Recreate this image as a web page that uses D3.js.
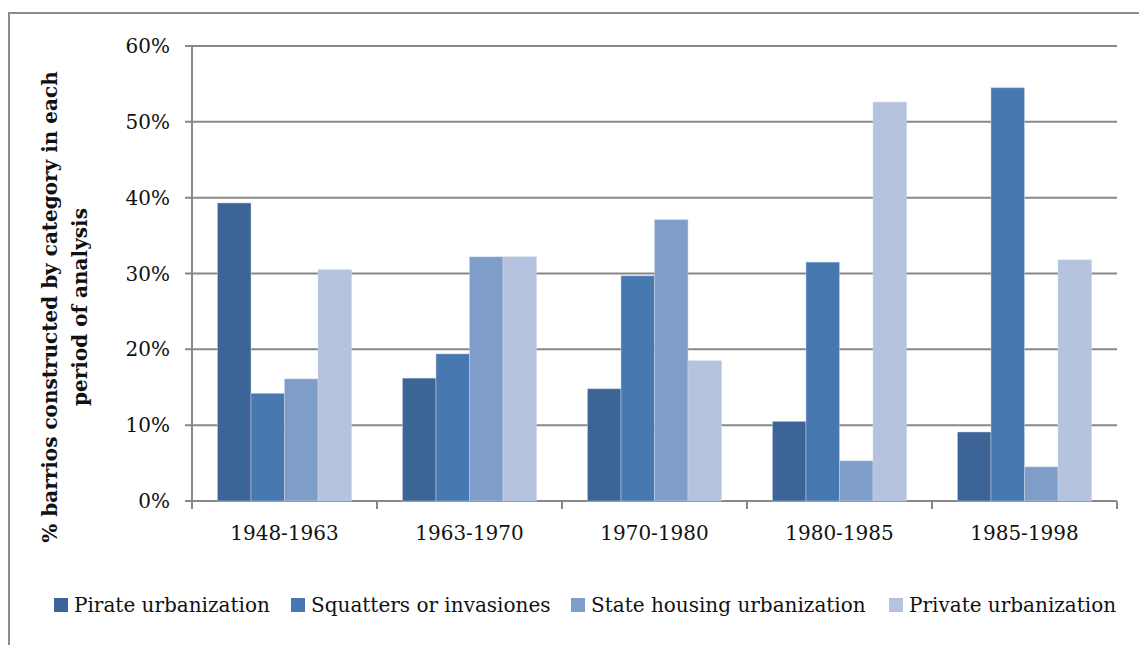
<!DOCTYPE html>
<html>
<head>
<meta charset="utf-8">
<title>barrios by period</title>
<script src="https://d3js.org/d3.v7.min.js"></script>
<style>
  body { margin: 0; background: #fff; }
</style>
</head>
<body>
<div id="chart"></div>
<script>
// periods on the x axis
var periods = ["1948-1963", "1963-1970", "1970-1980", "1980-1985", "1985-1998"];
// series names (legend order)
var seriesNames = ["Pirate urbanization", "Squatters or invasiones", "State housing urbanization", "Private urbanization"];
// values in %
var pirate    = [39.3, 16.2, 14.8, 10.5, 9.1];
var squatters = [14.2, 19.4, 29.7, 31.5, 54.5];
var stateHousing = [16.1, 32.2, 37.1, 5.3, 4.5];
var privateUrb = [30.5, 32.2, 18.5, 52.6, 31.8];
var yTicks = [0, 10, 20, 30, 40, 50, 60];

var colors = ["#3c6496", "#4878b0", "#7f9dc9", "#b5c3df"];
var allSeries = [pirate, squatters, stateHousing, privateUrb];

var width = 1139, height = 645;
var svg = d3.select("#chart").append("svg")
    .attr("width", width).attr("height", height)
    .attr("font-family", "'DejaVu Serif', serif")
    .attr("fill", "#111");

// outer frame
svg.append("rect")
    .attr("x", 9).attr("y", 13)
    .attr("width", 1150).attr("height", 660)
    .attr("fill", "none").attr("stroke", "#8c8c8c").attr("stroke-width", 2);

var pLeft = 192, pRight = 1117, pTop = 46, pBottom = 501;

var x = d3.scaleBand().domain(periods).range([pLeft, pRight]).paddingInner(0).paddingOuter(0);
var x1 = d3.scaleBand().domain(d3.range(4)).range([0, x.bandwidth()]).paddingInner(0).paddingOuter(0.76);
var y = d3.scaleLinear().domain([0, 60]).range([pBottom, pTop]);

// gridlines
svg.append("g").selectAll("line").data(yTicks).enter().append("line")
    .attr("x1", pLeft - 7).attr("x2", pRight)
    .attr("y1", d => y(d)).attr("y2", d => y(d))
    .attr("stroke", "#888").attr("stroke-width", 2);

// y axis line
svg.append("line")
    .attr("x1", pLeft).attr("x2", pLeft).attr("y1", pTop).attr("y2", pBottom + 8)
    .attr("stroke", "#888").attr("stroke-width", 2);

// x ticks at band boundaries
var bounds = periods.map(p => x(p)).concat([pRight]);
svg.append("g").selectAll("line").data(bounds).enter().append("line")
    .attr("x1", d => d).attr("x2", d => d)
    .attr("y1", pBottom).attr("y2", pBottom + 8)
    .attr("stroke", "#888").attr("stroke-width", 2);

// bars
allSeries.forEach(function(vals, i) {
    svg.append("g").selectAll("rect").data(vals).enter().append("rect")
        .attr("x", (d, j) => x(periods[j]) + x1(i))
        .attr("width", x1.bandwidth())
        .attr("y", d => y(d))
        .attr("height", d => y(0) - y(d))
        .attr("fill", colors[i])
        .attr("stroke", "#c9d5e8").attr("stroke-width", 0.8).attr("stroke-opacity", 0.6);
});

// y tick labels
svg.append("g").selectAll("text").data(yTicks).enter().append("text")
    .attr("x", 170).attr("y", d => y(d))
    .attr("dy", "0.35em")
    .attr("text-anchor", "end")
    .attr("font-size", "20px")
    .text(d => d + "%");

// x labels
svg.append("g").selectAll("text").data(periods).enter().append("text")
    .attr("x", d => x(d) + x.bandwidth() / 2)
    .attr("y", 533).attr("dy", "0.35em")
    .attr("text-anchor", "middle")
    .attr("font-size", "20px")
    .text(d => d);

// y axis title
var yt = svg.append("text")
    .attr("transform", "translate(57,307) rotate(-90)")
    .attr("text-anchor", "middle")
    .attr("font-size", "20px").attr("font-weight", "bold");
yt.append("tspan").attr("x", 0).attr("dy", 0).text("% barrios constructed by category in each");
yt.append("tspan").attr("x", 0).attr("dy", 30).text("period of analysis");

// legend
var legendX = [54, 291, 571, 889];
var lg = svg.append("g").selectAll("g").data(seriesNames).enter().append("g")
    .attr("transform", (d, i) => "translate(" + legendX[i] + ",605)");
lg.append("rect").attr("x", 0).attr("y", -7).attr("width", 14).attr("height", 14)
    .attr("fill", (d, i) => colors[i]);
lg.append("text").attr("x", 20).attr("dy", "0.35em")
    .attr("font-size", "20px").text(d => d);
</script>
</body>
</html>
